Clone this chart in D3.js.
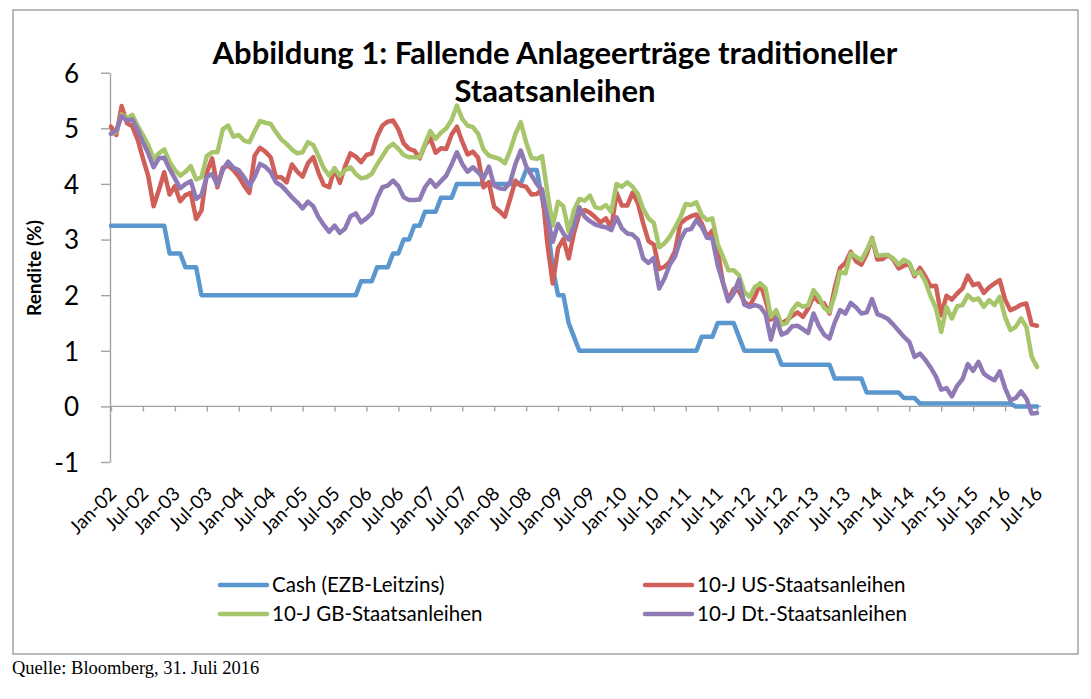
<!DOCTYPE html>
<html>
<head>
<meta charset="utf-8">
<script src="https://cdn.jsdelivr.net/npm/d3@7"></script>
<style>
  body { margin: 0; background: #fff; }
  svg { display: block; font-family: Lato, "Open Sans", sans-serif; }
</style>
</head>
<body>
<div id="chart"></div>
<script>
// month-end values, Jan-02 .. Jul-16, one row per year
const cashRate = [
  [3.25, 3.25, 3.25, 3.25, 3.25, 3.25, 3.25, 3.25, 3.25, 3.25, 3.25, 2.75],
  [2.75, 2.75, 2.5, 2.5, 2.5, 2, 2, 2, 2, 2, 2, 2],
  [2, 2, 2, 2, 2, 2, 2, 2, 2, 2, 2, 2],
  [2, 2, 2, 2, 2, 2, 2, 2, 2, 2, 2, 2.25],
  [2.25, 2.25, 2.5, 2.5, 2.5, 2.75, 2.75, 3, 3, 3.25, 3.25, 3.5],
  [3.5, 3.5, 3.75, 3.75, 3.75, 4, 4, 4, 4, 4, 4, 4],
  [4, 4, 4, 4, 4, 4, 4.25, 4.25, 4.25, 3.75, 3.25, 2.5],
  [2, 2, 1.5, 1.25, 1, 1, 1, 1, 1, 1, 1, 1],
  [1, 1, 1, 1, 1, 1, 1, 1, 1, 1, 1, 1],
  [1, 1, 1, 1.25, 1.25, 1.25, 1.5, 1.5, 1.5, 1.5, 1.25, 1],
  [1, 1, 1, 1, 1, 1, 0.75, 0.75, 0.75, 0.75, 0.75, 0.75],
  [0.75, 0.75, 0.75, 0.75, 0.5, 0.5, 0.5, 0.5, 0.5, 0.5, 0.25, 0.25],
  [0.25, 0.25, 0.25, 0.25, 0.25, 0.15, 0.15, 0.15, 0.05, 0.05, 0.05, 0.05],
  [0.05, 0.05, 0.05, 0.05, 0.05, 0.05, 0.05, 0.05, 0.05, 0.05, 0.05, 0.05],
  [0.05, 0.05, 0, 0, 0, 0, 0]
];

const usYield = [
  [5.03, 4.88, 5.40, 5.09, 5.04, 4.80, 4.46, 4.14, 3.60, 3.89, 4.21, 3.81],
  [3.96, 3.69, 3.80, 3.84, 3.37, 3.52, 4.20, 4.46, 3.94, 4.29, 4.33, 4.25],
  [4.13, 3.97, 3.84, 4.51, 4.65, 4.58, 4.48, 4.12, 4.12, 4.03, 4.35, 4.22],
  [4.13, 4.37, 4.48, 4.20, 3.98, 3.94, 4.28, 4.02, 4.32, 4.55, 4.49, 4.39],
  [4.52, 4.55, 4.85, 5.05, 5.12, 5.14, 4.98, 4.73, 4.63, 4.60, 4.46, 4.70],
  [4.82, 4.56, 4.64, 4.63, 4.89, 5.03, 4.76, 4.53, 4.58, 4.47, 3.94, 4.03],
  [3.59, 3.51, 3.41, 3.73, 4.06, 3.97, 3.95, 3.81, 3.82, 3.90, 2.92, 2.21],
  [2.84, 3.01, 2.66, 3.12, 3.46, 3.53, 3.48, 3.40, 3.31, 3.38, 3.20, 3.84],
  [3.61, 3.61, 3.84, 3.66, 3.29, 2.97, 2.91, 2.47, 2.51, 2.60, 2.80, 3.29],
  [3.37, 3.42, 3.45, 3.29, 3.05, 3.16, 2.80, 2.22, 1.92, 2.11, 2.07, 1.88],
  [1.80, 1.98, 2.21, 1.91, 1.56, 1.65, 1.49, 1.55, 1.63, 1.69, 1.61, 1.76],
  [1.98, 1.88, 1.85, 1.67, 2.13, 2.49, 2.58, 2.78, 2.61, 2.55, 2.74, 3.03],
  [2.64, 2.65, 2.72, 2.64, 2.48, 2.53, 2.56, 2.34, 2.49, 2.34, 2.16, 2.17],
  [1.64, 1.99, 1.92, 2.03, 2.12, 2.35, 2.18, 2.21, 2.04, 2.14, 2.21, 2.27],
  [1.92, 1.73, 1.77, 1.83, 1.85, 1.47, 1.45]
];

const gbYield = [
  [4.90, 4.93, 5.25, 5.18, 5.24, 5.05, 4.88, 4.70, 4.45, 4.55, 4.62, 4.40],
  [4.25, 4.15, 4.22, 4.32, 4.08, 4.12, 4.50, 4.57, 4.57, 4.98, 5.05, 4.85],
  [4.88, 4.78, 4.75, 4.95, 5.13, 5.10, 5.08, 4.93, 4.80, 4.72, 4.62, 4.55],
  [4.57, 4.75, 4.70, 4.50, 4.28, 4.15, 4.28, 4.15, 4.25, 4.30, 4.18, 4.10],
  [4.12, 4.18, 4.35, 4.50, 4.65, 4.72, 4.63, 4.52, 4.48, 4.48, 4.48, 4.72],
  [4.95, 4.81, 4.92, 5.00, 5.15, 5.41, 5.17, 5.05, 5.02, 4.90, 4.62, 4.51],
  [4.48, 4.45, 4.37, 4.60, 4.90, 5.11, 4.75, 4.47, 4.45, 4.50, 3.85, 3.25],
  [3.68, 3.60, 3.14, 3.53, 3.73, 3.70, 3.79, 3.58, 3.56, 3.62, 3.50, 4.00],
  [3.95, 4.03, 3.95, 3.82, 3.55, 3.38, 3.30, 2.86, 2.93, 3.05, 3.22, 3.40],
  [3.64, 3.62, 3.67, 3.44, 3.35, 3.38, 2.92, 2.69, 2.45, 2.45, 2.36, 2.06],
  [1.97, 2.15, 2.21, 2.12, 1.61, 1.73, 1.47, 1.50, 1.73, 1.85, 1.79, 1.82],
  [2.09, 1.97, 1.77, 1.70, 2.00, 2.42, 2.39, 2.75, 2.69, 2.63, 2.81, 3.02],
  [2.71, 2.72, 2.72, 2.66, 2.55, 2.64, 2.58, 2.37, 2.42, 2.25, 1.98, 1.77],
  [1.34, 1.79, 1.58, 1.80, 1.82, 2.00, 1.91, 1.94, 1.79, 1.91, 1.82, 1.97],
  [1.61, 1.37, 1.43, 1.58, 1.43, 0.89, 0.71]
];

const deYield = [
  [4.90, 4.96, 5.22, 5.14, 5.16, 4.97, 4.75, 4.55, 4.30, 4.46, 4.47, 4.27],
  [4.10, 3.92, 4.00, 4.05, 3.73, 3.80, 4.13, 4.18, 3.98, 4.25, 4.40, 4.29],
  [4.25, 4.12, 3.96, 4.13, 4.36, 4.31, 4.21, 4.03, 3.97, 3.87, 3.76, 3.67],
  [3.56, 3.68, 3.60, 3.40, 3.26, 3.14, 3.25, 3.12, 3.20, 3.42, 3.47, 3.31],
  [3.38, 3.47, 3.74, 3.94, 3.97, 4.06, 3.96, 3.76, 3.71, 3.71, 3.72, 3.94],
  [4.07, 3.95, 4.05, 4.15, 4.35, 4.57, 4.36, 4.22, 4.30, 4.21, 4.10, 4.31],
  [3.97, 3.92, 3.91, 4.03, 4.36, 4.60, 4.32, 4.16, 4.00, 3.88, 3.40, 2.96],
  [3.28, 3.11, 3.00, 3.24, 3.58, 3.41, 3.33, 3.27, 3.24, 3.22, 3.17, 3.40],
  [3.20, 3.11, 3.09, 3.00, 2.66, 2.58, 2.67, 2.12, 2.30, 2.55, 2.70, 3.00],
  [3.17, 3.19, 3.35, 3.23, 3.03, 3.02, 2.54, 2.22, 1.89, 2.03, 2.28, 1.83],
  [1.79, 1.82, 1.79, 1.66, 1.20, 1.58, 1.29, 1.33, 1.44, 1.45, 1.39, 1.32],
  [1.67, 1.45, 1.29, 1.22, 1.51, 1.73, 1.67, 1.86, 1.78, 1.67, 1.69, 1.93],
  [1.66, 1.62, 1.57, 1.47, 1.36, 1.25, 1.16, 0.89, 0.95, 0.84, 0.70, 0.54],
  [0.30, 0.33, 0.18, 0.37, 0.49, 0.76, 0.64, 0.80, 0.59, 0.52, 0.47, 0.63],
  [0.33, 0.11, 0.15, 0.27, 0.14, -0.13, -0.12]
];

const tickLabels = [
  "Jan-02", "Jul-02", "Jan-03", "Jul-03", "Jan-04", "Jul-04", "Jan-05", "Jul-05",
  "Jan-06", "Jul-06", "Jan-07", "Jul-07", "Jan-08", "Jul-08", "Jan-09", "Jul-09",
  "Jan-10", "Jul-10", "Jan-11", "Jul-11", "Jan-12", "Jul-12", "Jan-13", "Jul-13",
  "Jan-14", "Jul-14", "Jan-15", "Jul-15", "Jan-16", "Jul-16"
];
const yTicks = [-1, 0, 1, 2, 3, 4, 5, 6];

const seriesNames = ["Cash (EZB-Leitzins)", "10-J US-Staatsanleihen", "10-J GB-Staatsanleihen", "10-J Dt.-Staatsanleihen"];
const seriesColors = ["#5b97cf", "#cf5f58", "#a7c56b", "#8f7ab5"];

const W = 1091, H = 699;
const axisGrey = "#a3a3a3";

// months Jan 2002 .. Jul 2016
const months = d3.timeMonth.range(new Date(2002, 0, 1), new Date(2016, 7, 1));
const series = [cashRate, usYield, gbYield, deYield].map((rows, k) => ({
  name: seriesNames[k],
  color: seriesColors[k],
  values: rows.flat().map((v, i) => ({ date: months[i], v }))
}));

const svg = d3.select("#chart").append("svg")
  .attr("width", W).attr("height", H);

svg.append("rect").attr("width", W).attr("height", H).attr("fill", "#fff");

// chart frame
svg.append("rect")
  .attr("x", 13).attr("y", 10)
  .attr("width", 1065).attr("height", 644)
  .attr("fill", "none").attr("stroke", axisGrey).attr("stroke-width", 1.5);

const x = d3.scalePoint().domain(months).range([111, 1037]);
const y = d3.scaleLinear().domain([-1, 6]).range([462, 72.7]);

// y axis
const yAxis = svg.append("g")
  .attr("transform", "translate(110,0)")
  .call(d3.axisLeft(y).tickValues(yTicks).tickSize(9).tickSizeOuter(0).tickPadding(22)
    .tickFormat(d => String(d)));
yAxis.attr("font-family", null).attr("font-size", null);
yAxis.select(".domain").attr("stroke", axisGrey).attr("stroke-width", 1.4);
yAxis.selectAll(".tick line").attr("stroke", axisGrey).attr("stroke-width", 1.4);
yAxis.selectAll(".tick text")
  .attr("fill", "#000").style("font-size", "26px").attr("dy", "0.36em");

// x axis at zero, labels below the plot
const tickDates = months.filter((d, i) => i % 6 === 0);
const xAxis = svg.append("g")
  .attr("transform", `translate(0,${y(0)})`)
  .call(d3.axisBottom(x).tickValues(tickDates).tickSize(5).tickSizeOuter(0)
    .tickFormat((d, i) => tickLabels[i]));
xAxis.attr("font-family", null).attr("font-size", null);
xAxis.select(".domain").attr("stroke", axisGrey).attr("stroke-width", 1.4)
  .attr("d", `M${x.range()[0] - 1},0H${x.range()[1] + 4}`);
xAxis.selectAll(".tick line").attr("stroke", axisGrey).attr("stroke-width", 1.4);
xAxis.selectAll(".tick text")
  .attr("y", 0).attr("dy", 0)
  .attr("text-anchor", "end")
  .attr("transform", `translate(6,${y(-1) - y(0) + 33}) rotate(-45)`)
  .attr("fill", "#000")
  .style("font-size", "19px");

// lines
const line = d3.line().x(d => x(d.date)).y(d => y(d.v));
svg.append("g").selectAll("path").data(series).join("path")
  .attr("d", d => line(d.values))
  .attr("fill", "none")
  .attr("stroke", d => d.color)
  .attr("stroke-width", 4.5)
  .attr("stroke-linejoin", "round")
  .attr("stroke-linecap", "round");

// title
const title = svg.append("text")
  .attr("text-anchor", "middle")
  .style("font-size", "31px").style("font-weight", "bold");
title.append("tspan").attr("x", 555).attr("y", 64).text("Abbildung 1: Fallende Anlageerträge traditioneller");
title.append("tspan").attr("x", 555).attr("y", 102).text("Staatsanleihen");

// y label
svg.append("text")
  .attr("transform", "translate(41,268) rotate(-90)")
  .attr("text-anchor", "middle")
  .style("font-size", "19px").style("font-weight", "bold")
  .text("Rendite (%)");

// legend
const legendPos = [[220, 585], [645, 585], [220, 614], [645, 614]];
const legend = svg.append("g").selectAll("g").data(series).join("g")
  .attr("transform", (d, i) => `translate(${legendPos[i][0]},${legendPos[i][1]})`);
legend.append("line")
  .attr("x1", 0).attr("x2", 47)
  .attr("stroke", d => d.color).attr("stroke-width", 4.5).attr("stroke-linecap", "round");
legend.append("text")
  .attr("x", 52).attr("dy", "0.35em")
  .style("font-size", "20.5px")
  .text(d => d.name);

// source note
svg.append("text")
  .attr("x", 12).attr("y", 674)
  .style("font-family", "'Liberation Serif', 'Times New Roman', serif")
  .style("font-size", "18.5px")
  .text("Quelle: Bloomberg, 31. Juli 2016");
</script>
</body>
</html>
